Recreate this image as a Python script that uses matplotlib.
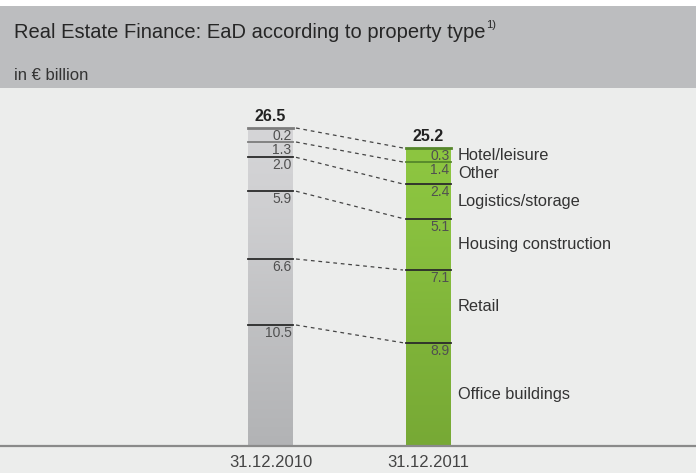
#!/usr/bin/env python3
"""Real Estate Finance: EaD according to property type (stacked columns)."""

import numpy as np
import matplotlib.pyplot as plt
from matplotlib.colors import to_rgb
from matplotlib.patches import Rectangle

# --- data (bottom to top)
categories = ["Office buildings", "Retail", "Housing construction",
              "Logistics/storage", "Other", "Hotel/leisure"]
values_2010 = [10.5, 6.6, 5.9, 2.0, 1.3, 0.2]
values_2011 = [8.9, 7.1, 5.1, 2.4, 1.4, 0.3]
totals = [26.5, 25.2]
dates = ["31.12.2010", "31.12.2011"]

W, H = 696, 473
plt.rcParams["font.family"] = ["Liberation Sans", "DejaVu Sans"]

# The source graphic is not drawn to a linear scale: the thin top segments
# are stretched so their labels fit. Mimic it with a piecewise-linear axis.
_KV = np.array([-10.0, 0.0, 10.0, 21.0, 23.5, 24.9, 25.2, 26.3, 26.5, 40.0])
_KP = np.array([-120.0, 0.0, 116.0, 226.0, 262.0, 284.0, 298.0, 304.0, 318.0, 480.0])


def _fwd(v):
    return np.interp(v, _KV, _KP)


def _inv(p):
    return np.interp(p, _KP, _KV)


fig = plt.figure(figsize=(W / 100, H / 100), dpi=100)
fig.patch.set_facecolor("white")

# header band
fig.patches.append(Rectangle((0, 1 - 88 / H), 1, (88 - 6) / H, transform=fig.transFigure,
                             facecolor="#bcbdbf", edgecolor="none", zorder=0))
title = fig.text(14 / W, 1 - 32 / H, "Real Estate Finance: EaD according to property type",
                 fontsize=14.5, color="#262626", va="center", ha="left")
fig.text(14 / W, 1 - 75 / H, "in € billion",
         fontsize=12, color="#333333", va="center", ha="left")

# plot axes in the lower panel
ax = fig.add_axes([0, 0, 1, 1 - 88 / H])
ax.set_facecolor("#ecedec")
for s in ax.spines.values():
    s.set_visible(False)
ax.set_yscale("function", functions=(_fwd, _inv))

px_unit = 158.0           # px between bar centres
x0_px = 270.5             # px of first bar centre
xmin, xmax = -x0_px / px_unit, (W - x0_px) / px_unit
base_px = 446
bw = 45 / px_unit
xs = np.arange(2)

grads = [("#d5d5d7", "#b2b3b5"), ("#8dc641", "#77a935")]
top_lines = ["#7c7c7c", "#55862a"]
series = [values_2010, values_2011]

for i, vals in enumerate(series):
    tops = np.cumsum(vals)
    c_top, c_bot = np.array(to_rgb(grads[i][0])), np.array(to_rgb(grads[i][1]))
    t = np.linspace(0, 1, 256)[:, None, None]
    img = c_top[None, None, :] * (1 - t) + c_bot[None, None, :] * t
    ax.imshow(img, extent=(xs[i] - bw / 2, xs[i] + bw / 2, 0, tops[-1]),
              aspect="auto", origin="upper", zorder=2)
    for j, tp in enumerate(tops):
        col = top_lines[i] if j >= len(tops) - 2 else "#2a2a2a"
        lw = 2.0 if j == len(tops) - 1 else 1.3
        ax.plot([xs[i] - bw / 2, xs[i] + bw / 2], [tp, tp], color=col, lw=lw, zorder=3)
        ax.annotate(f"{vals[j]:.1f}", (xs[i] + bw / 2, tp), xytext=(-1.5, -1),
                    textcoords="offset pixels", ha="right", va="top",
                    fontsize=10, color="#505050", zorder=4)
    ax.annotate(f"{totals[i]:.1f}", (xs[i], totals[i]), xytext=(0, 4),
                textcoords="offset pixels", ha="center", va="bottom",
                fontsize=11.5, fontweight="bold", color="#222222")
    ax.annotate(dates[i], (xs[i], 0), xytext=(0, -16), textcoords="offset pixels",
                ha="center", va="center", fontsize=12, color="#444444")

# dashed connectors
tops10 = np.cumsum(values_2010)
tops11 = np.cumsum(values_2011)
for a, b in zip(tops10, tops11):
    ax.plot([xs[0] + bw / 2 + 3 / px_unit, xs[1] - bw / 2 - 3 / px_unit], [a, b],
            color="#444444", lw=0.9, dashes=(3, 3), zorder=3)

# category labels beside the 2011 bar
bottoms11 = tops11 - np.array(values_2011)
for name, lo, hi in zip(categories, bottoms11, tops11):
    mid = _inv((_fwd(lo) + _fwd(hi)) / 2)
    ax.annotate(name, (xs[1] + bw / 2, mid), xytext=(7, 0), textcoords="offset pixels",
                ha="left", va="center", fontsize=11.8, color="#333333")

ax.axhline(0, color="#8a8a8a", lw=1.6, zorder=5)
ax.set_xlim(xmin, xmax)
ax.set_ylim(_inv(-(H - base_px)), _inv(base_px - 88))
ax.set_xticks([])
ax.set_yticks([])
ax.minorticks_off()

# footnote marker right after the title
fig.canvas.draw()
bb = title.get_window_extent()
fig.text((bb.x1 + 1) / W, 1 - 25 / H, "1)", fontsize=8, color="#262626",
         va="center", ha="left")

fig.savefig("out.png", dpi=100)
